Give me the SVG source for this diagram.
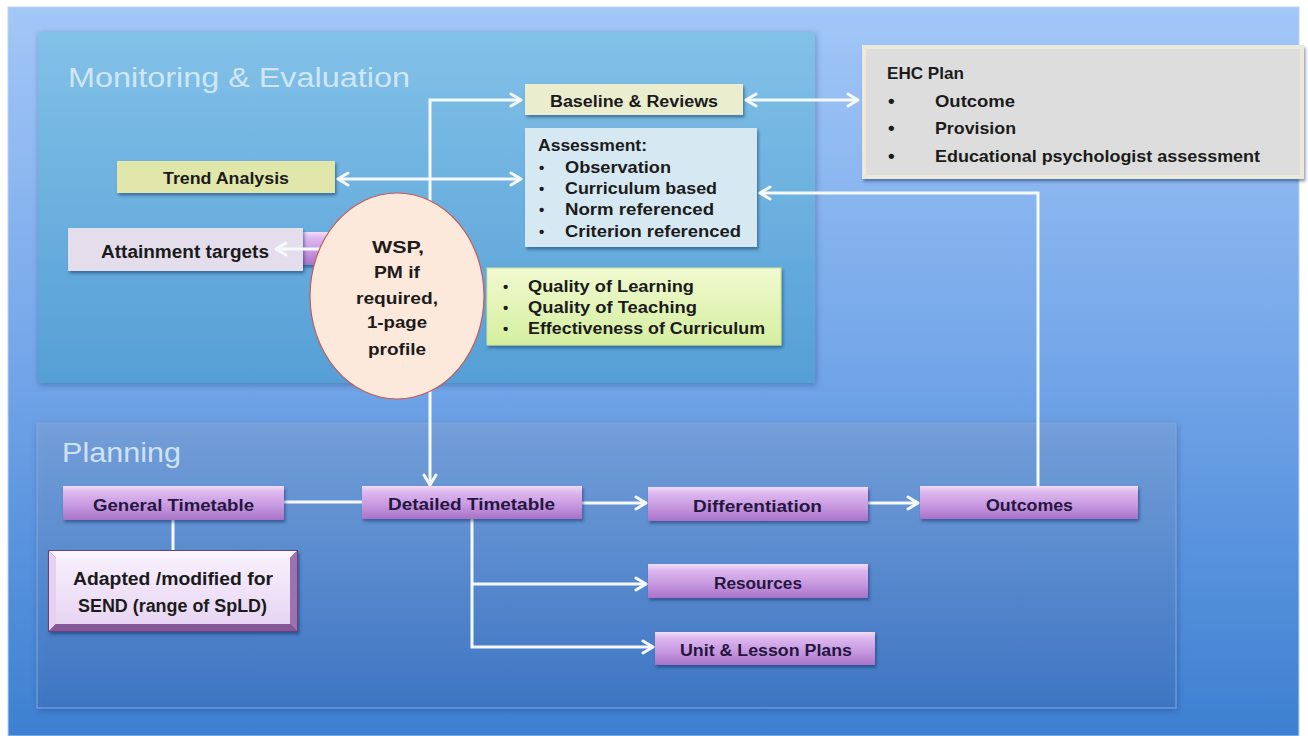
<svg xmlns="http://www.w3.org/2000/svg" width="1308" height="736" viewBox="0 0 1308 736">
<defs>
<linearGradient id="gOuter" x1="0" y1="0" x2="0" y2="1"><stop offset="0" stop-color="#a3c7f7"/><stop offset="0.5" stop-color="#72a5e8"/><stop offset="1" stop-color="#3d80d1"/></linearGradient>
<linearGradient id="gME" x1="0" y1="0" x2="0" y2="1"><stop offset="0" stop-color="#82c1e8"/><stop offset="1" stop-color="#559fd6"/></linearGradient>
<linearGradient id="gPlan" x1="0" y1="0" x2="0" y2="1"><stop offset="0" stop-color="#7aa3dc"/><stop offset="1" stop-color="#3f76c4"/></linearGradient>
<linearGradient id="gPurple" x1="0" y1="0" x2="0" y2="1"><stop offset="0" stop-color="#f2dcf8"/><stop offset="0.18" stop-color="#ddb8ee"/><stop offset="0.6" stop-color="#c697e0"/><stop offset="1" stop-color="#a872c8"/></linearGradient>
<linearGradient id="gQual" x1="0" y1="0" x2="0" y2="1"><stop offset="0" stop-color="#f1f9d0"/><stop offset="1" stop-color="#d5efa0"/></linearGradient>
<linearGradient id="gAdapt" x1="0" y1="0" x2="0" y2="1"><stop offset="0" stop-color="#f8effc"/><stop offset="1" stop-color="#e7d5f3"/></linearGradient>
<filter id="sh" x="-10%" y="-20%" width="125%" height="150%"><feDropShadow dx="1.5" dy="2.5" stdDeviation="1.8" flood-color="#0a2050" flood-opacity="0.45"/></filter>
<filter id="shSoft" x="-5%" y="-5%" width="110%" height="115%"><feDropShadow dx="1" dy="2" stdDeviation="3" flood-color="#0a2050" flood-opacity="0.3"/></filter>
<marker id="arr" markerUnits="userSpaceOnUse" viewBox="0 0 14 16" refX="12" refY="8" markerWidth="14" markerHeight="16" orient="auto-start-reverse"><path d="M2,2 L12,8 L2,14" fill="none" stroke="#f6f9fd" stroke-width="3" stroke-linecap="round" stroke-linejoin="round"/></marker>
</defs>
<style>
.t{font-family:"Liberation Sans",Arial,sans-serif;font-weight:bold;fill:#1b1b1b}
.pt{font-family:"Liberation Sans",Arial,sans-serif;font-weight:bold;fill:#25163f;font-size:16px}
.ttl{font-family:"Liberation Sans",Arial,sans-serif;fill:#dcedf9;fill-opacity:0.9}
.con{fill:none;stroke:#f6f9fd;stroke-width:3}
.pbox{fill:url(#gPurple);filter:url(#sh)}
</style>

<!-- background panels -->
<rect x="8" y="7" width="1291" height="729" fill="url(#gOuter)" stroke="#b9d4f8" stroke-width="1"/>
<rect x="38" y="32" width="777" height="351" fill="url(#gME)" filter="url(#shSoft)"/>
<text class="ttl" x="68" y="87" font-size="27" textLength="342" lengthAdjust="spacingAndGlyphs">Monitoring &amp; Evaluation</text>
<rect x="37" y="423" width="1139" height="285" fill="url(#gPlan)" fill-opacity="0.75" stroke="#7ea6dc" stroke-width="1" filter="url(#shSoft)"/>
<text class="ttl" x="62" y="462" font-size="28" textLength="119" lengthAdjust="spacingAndGlyphs">Planning</text>

<!-- hidden box behind ellipse -->
<rect x="298" y="232" width="36" height="33" class="pbox"/>

<!-- M&E nodes -->
<g id="baseline">
<rect x="525" y="84" width="218" height="31" fill="#ebedcf" filter="url(#sh)"/>
<text class="t" x="550" y="107" font-size="16" textLength="168" lengthAdjust="spacingAndGlyphs">Baseline &amp; Reviews</text>
</g>
<g id="assessment">
<rect x="525" y="128" width="232" height="119" fill="#d6e9f3" filter="url(#sh)"/>
<text class="t" x="538" y="151" font-size="16" textLength="109" lengthAdjust="spacingAndGlyphs">Assessment:</text>
<text class="t" x="539" y="173" font-size="15">•</text>
<text class="t" x="565" y="173" font-size="16" textLength="106" lengthAdjust="spacingAndGlyphs">Observation</text>
<text class="t" x="539" y="194" font-size="15">•</text>
<text class="t" x="565" y="194" font-size="16" textLength="152" lengthAdjust="spacingAndGlyphs">Curriculum based</text>
<text class="t" x="539" y="215" font-size="15">•</text>
<text class="t" x="565" y="215" font-size="16" textLength="149" lengthAdjust="spacingAndGlyphs">Norm referenced</text>
<text class="t" x="539" y="237" font-size="15">•</text>
<text class="t" x="565" y="237" font-size="16" textLength="176" lengthAdjust="spacingAndGlyphs">Criterion referenced</text>
</g>
<g id="trend">
<rect x="117" y="161" width="218" height="32" fill="#e1e6ab" filter="url(#sh)"/>
<text class="t" x="163" y="184" font-size="16" textLength="126" lengthAdjust="spacingAndGlyphs">Trend Analysis</text>
</g>
<g id="attainment">
<rect x="68" y="228" width="235" height="43" fill="#e4ddec" filter="url(#sh)"/>
<text class="t" x="101" y="258" font-size="18" fill="#111" textLength="168" lengthAdjust="spacingAndGlyphs">Attainment targets</text>
</g>
<g id="quality">
<rect x="487" y="268" width="294" height="77" fill="url(#gQual)" stroke="#cfe59a" stroke-width="1" filter="url(#sh)"/>
<text class="t" x="503" y="292" font-size="15">•</text>
<text class="t" x="528" y="292" font-size="16.5" textLength="166" lengthAdjust="spacingAndGlyphs">Quality of Learning</text>
<text class="t" x="503" y="313" font-size="15">•</text>
<text class="t" x="528" y="313" font-size="16.5" textLength="169" lengthAdjust="spacingAndGlyphs">Quality of Teaching</text>
<text class="t" x="503" y="334" font-size="15">•</text>
<text class="t" x="528" y="334" font-size="16.5" textLength="237" lengthAdjust="spacingAndGlyphs">Effectiveness of Curriculum</text>
</g>

<!-- connectors -->
<g id="connectors">
<path class="con" d="M521,100 H430 V485" marker-start="url(#arr)" marker-end="url(#arr)"/>
<path class="con" d="M338,179 H521" marker-start="url(#arr)" marker-end="url(#arr)"/>
<path class="con" d="M746,100 H858" marker-start="url(#arr)" marker-end="url(#arr)"/>
<path class="con" d="M1038,486 V193 H760" marker-end="url(#arr)"/>
<path class="con" d="M323,249 H276" marker-end="url(#arr)"/>
<path class="con" d="M284,502 H362"/>
<path class="con" d="M173,520 V550"/>
<path class="con" d="M582,503 H646" marker-end="url(#arr)"/>
<path class="con" d="M868,503 H918" marker-end="url(#arr)"/>
<path class="con" d="M472,519 V647 H653" marker-end="url(#arr)"/>
<path class="con" d="M472,584 H646" marker-end="url(#arr)"/>
</g>

<g id="wsp">
<ellipse cx="397" cy="296" rx="87" ry="103" fill="#fde9dc" stroke="#c55a55" stroke-width="1.2"/>
<text class="t" x="372" y="253" font-size="17" fill="#111" textLength="52" lengthAdjust="spacingAndGlyphs">WSP,</text>
<text class="t" x="374" y="278" font-size="17" fill="#111" textLength="46" lengthAdjust="spacingAndGlyphs">PM if</text>
<text class="t" x="356" y="304" font-size="17" fill="#111" textLength="82" lengthAdjust="spacingAndGlyphs">required,</text>
<text class="t" x="367" y="328" font-size="17" fill="#111" textLength="60" lengthAdjust="spacingAndGlyphs">1-page</text>
<text class="t" x="368" y="355" font-size="17" fill="#111" textLength="58" lengthAdjust="spacingAndGlyphs">profile</text>
</g>
<g id="ehc">
<rect x="864" y="47" width="438" height="130" fill="#dddddd" stroke="#ece9da" stroke-width="4" filter="url(#sh)"/>
<text class="t" x="887" y="79" font-size="17" fill="#111" textLength="77" lengthAdjust="spacingAndGlyphs">EHC Plan</text>
<text class="t" x="888" y="107" font-size="19" fill="#111">•</text>
<text class="t" x="935" y="107" font-size="17" fill="#111" textLength="80" lengthAdjust="spacingAndGlyphs">Outcome</text>
<text class="t" x="888" y="134" font-size="19" fill="#111">•</text>
<text class="t" x="935" y="134" font-size="17" fill="#111" textLength="81" lengthAdjust="spacingAndGlyphs">Provision</text>
<text class="t" x="888" y="162" font-size="19" fill="#111">•</text>
<text class="t" x="935" y="162" font-size="17" fill="#111" textLength="325" lengthAdjust="spacingAndGlyphs">Educational psychologist assessment</text>
</g>

<!-- Planning nodes -->
<g id="general">
<rect x="63" y="486" width="221" height="34" class="pbox"/>
<text class="pt" x="93" y="511" textLength="161" lengthAdjust="spacingAndGlyphs">General Timetable</text>
</g>
<g id="detailed">
<rect x="362" y="486" width="220" height="33" class="pbox"/>
<text class="pt" x="388" y="510" textLength="167" lengthAdjust="spacingAndGlyphs">Detailed Timetable</text>
</g>
<g id="differentiation">
<rect x="648" y="487" width="220" height="34" class="pbox"/>
<text class="pt" x="693" y="512" textLength="129" lengthAdjust="spacingAndGlyphs">Differentiation</text>
</g>
<g id="outcomes">
<rect x="920" y="486" width="218" height="33" class="pbox"/>
<text class="pt" x="986" y="511" textLength="87" lengthAdjust="spacingAndGlyphs">Outcomes</text>
</g>
<g id="resources">
<rect x="648" y="564" width="220" height="34" class="pbox"/>
<text class="pt" x="714" y="589" textLength="88" lengthAdjust="spacingAndGlyphs">Resources</text>
</g>
<g id="unit">
<rect x="655" y="632" width="220" height="33" class="pbox"/>
<text class="pt" x="680" y="656" textLength="172" lengthAdjust="spacingAndGlyphs">Unit &amp; Lesson Plans</text>
</g>
<g id="adapted">
<rect x="48" y="550" width="250" height="82" fill="#6a3d7c" filter="url(#sh)"/>
<polygon points="49,551 297,551 290,558 56,558" fill="#fbf5fe"/>
<polygon points="49,551 56,558 56,624 49,631" fill="#e6d2ee"/>
<polygon points="297,551 297,631 290,624 290,558" fill="#9d72ae"/>
<polygon points="49,631 56,624 290,624 297,631" fill="#83579a"/>
<rect x="56" y="558" width="234" height="66" fill="url(#gAdapt)"/>
<text class="t" x="73" y="585" font-size="18" fill="#0d0d0d" textLength="200" lengthAdjust="spacingAndGlyphs">Adapted /modified for</text>
<text class="t" x="78" y="612" font-size="18" fill="#0d0d0d" textLength="189" lengthAdjust="spacingAndGlyphs">SEND (range of SpLD)</text>
</g>
</svg>
